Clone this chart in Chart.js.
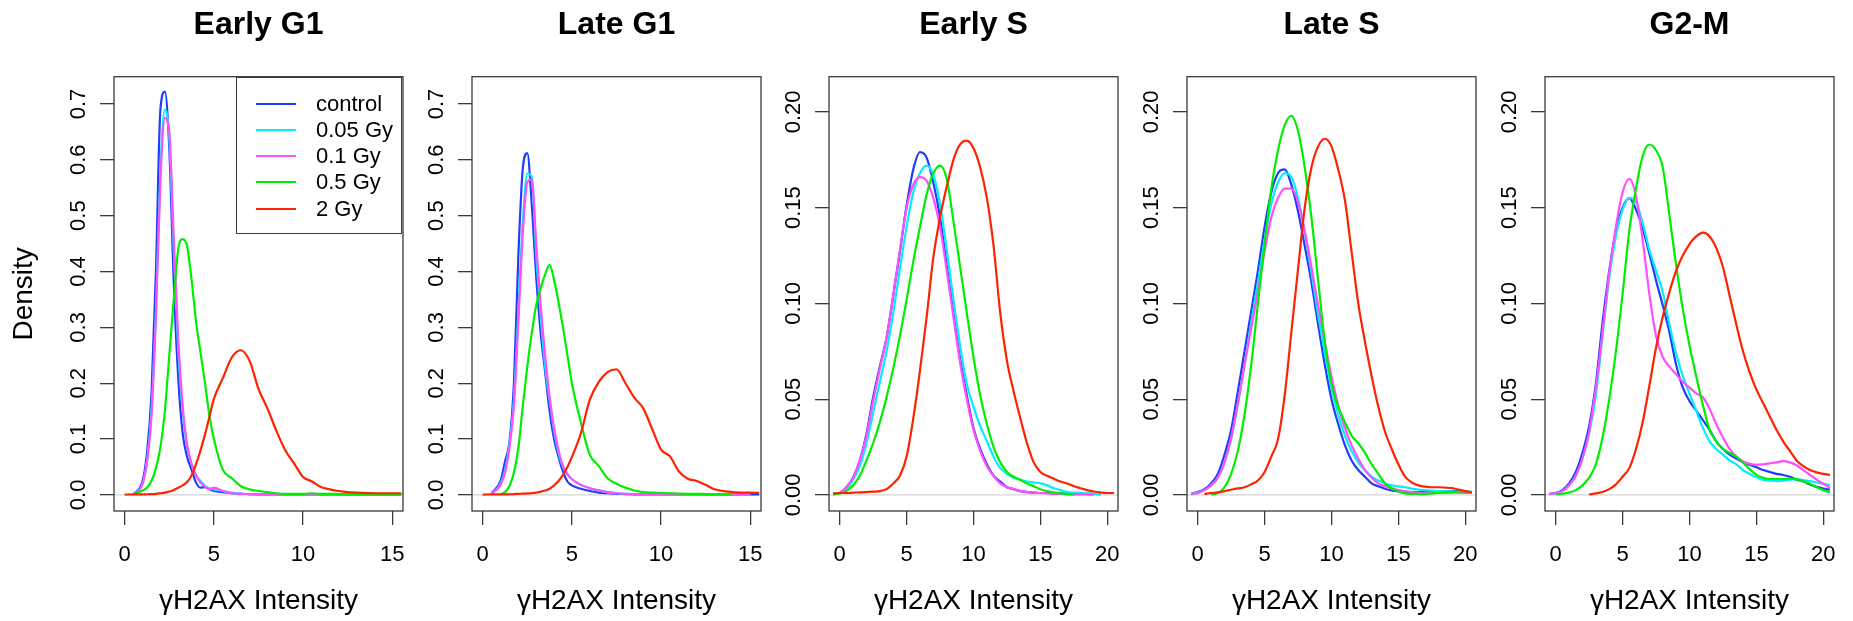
<!DOCTYPE html>
<html lang="en">
<head>
<meta charset="UTF-8">
<title>γH2AX density by cell cycle phase</title>
<script src="https://cdn.jsdelivr.net/npm/chart.js"></script>
<style>
  body { margin: 0; background: #fff; font-family: "Liberation Sans", Arial, sans-serif; }
  #wrap { position: relative; width: 1853px; height: 621px; overflow: hidden; }
  #wrap canvas { position: absolute; top: 0; }
  #legend {
    position: absolute; left: 236px; top: 76.5px; width: 166px; height: 157px;
    border: 1.3px solid #3a3a3a; box-sizing: border-box;
  }
  .row { position: absolute; left: 0; height: 26px; width: 100%; }
  .row i { position: absolute; left: 19px; width: 40px; height: 2px; top: 12px; }
  .row span { position: absolute; left: 79px; top: 0; font-size: 22px; line-height: 26px; color: #000; }
</style>
</head>
<body>
<div id="wrap">
  <canvas id="p0"></canvas>
  <canvas id="p1"></canvas>
  <canvas id="p2"></canvas>
  <canvas id="p3"></canvas>
  <canvas id="p4"></canvas>
  <div id="legend"></div>
</div>
<script>
// ---- data ----
const seriesNames = ['control', '0.05 Gy', '0.1 Gy', '0.5 Gy', '2 Gy'];
const seriesColors = ['#1f3cff', '#00eeff', '#ff4dff', '#00ee00', '#ff2200'];
const panelTitles = ['Early G1', 'Late G1', 'Early S', 'Late S', 'G2-M'];

const xTicksG1 = [0, 5, 10, 15];
const xTicksS = [0, 5, 10, 15, 20];
const yTicksG1 = [0, 0.1, 0.2, 0.3, 0.4, 0.5, 0.6, 0.7];
const yTicksS = [0, 0.05, 0.10, 0.15, 0.20];

// x positions of the density readings
const gridG1 = [0, 0.5, 1, 1.25, 1.5, 1.75, 2, 2.25, 2.5, 2.75,
                3, 3.25, 3.5, 3.75, 4, 4.25, 4.5, 4.75, 5, 5.5,
                6, 6.5, 7, 7.5, 8, 8.5, 9, 9.5, 10, 10.5,
                11, 11.5, 12, 12.5, 13, 14, 15, 15.5];
const gridS = [-0.5, 0, 0.5, 1, 1.5, 2, 2.5, 3, 3.5, 4,
               4.5, 5, 5.5, 6, 6.5, 7, 7.5, 8, 8.5, 9,
               9.5, 10, 10.5, 11, 11.5, 12, 12.5, 13, 13.5, 14,
               14.5, 15, 15.5, 16, 16.5, 17, 17.5, 18, 18.5, 19,
               19.5, 20, 20.5];

// Early G1
const earlyG1Control = [null, .001, .025, .075, .18, .40, .69, .722, .62, .38,
  .21, .11, .068, .045, .022, .013, .014, .01, .007, .005,
  .003, .002, .0015, .001, .001, .001, .0008, .0008, .0008, .0008,
  .0008, .0008, .0008, .0008, .0008, .0008, .0008, .0008];
const earlyG1Gy005 = [null, .001, .02, .06, .15, .33, .58, .69, .64, .44,
  .26, .15, .085, .055, .035, .025, .016, .012, .01, .007,
  .004, .002, .0015, .001, .001, .001, .0008, .0008, .0008, .0008,
  .0008, .0008, .0008, .0008, .0008, .0008, .0008, .0008];
const earlyG1Gy01 = [null, .001, .02, .06, .14, .32, .56, .675, .65, .46,
  .28, .16, .09, .055, .035, .022, .015, .01, .013, .007,
  .003, .002, .0015, .001, .001, .001, .0008, .0008, .0008, .0008,
  .0008, .0008, .0008, .0008, .0008, .0008, .0008, .0008];
const earlyG1Gy05 = [null, .001, .008, .013, .025, .048, .085, .15, .25, .35,
  .44, .458, .445, .385, .31, .255, .2, .142, .1, .045,
  .03, .016, .01, .007, .005, .003, .002, .002, .002, .003,
  .002, .002, .0015, .001, .001, .001, .0008, .0008];
const earlyG1Gy2 = [.0005, .001, .001, .0012, .0015, .002, .003, .004, .006, .009,
  .013, .017, .023, .035, .055, .08, .108, .14, .172, .209,
  .246, .259, .24, .19, .155, .115, .08, .056, .032, .024,
  .014, .01, .007, .005, .004, .003, .003, .003];

// Late G1
const lateG1Control = [null, .003, .025, .06, .095, .2, .43, .585, .612, .52,
  .39, .29, .22, .15, .1, .068, .042, .024, .017, .011,
  .007, .004, .003, .002, .0015, .001, .001, .001, .001, .001,
  .001, .001, .001, .001, .001, .001, .001, .001];
const lateG1Gy005 = [null, .002, .02, .045, .09, .17, .33, .49, .575, .57,
  .43, .32, .23, .17, .115, .075, .05, .037, .028, .018,
  .012, .008, .005, .003, .002, .0015, .001, .001, .001, .001,
  .001, .001, .001, .001, .001, .001, .001, null];
const lateG1Gy01 = [null, .002, .018, .04, .085, .16, .31, .47, .56, .565,
  .45, .34, .25, .175, .12, .08, .052, .037, .028, .018,
  .012, .008, .005, .003, .002, .0015, .001, .001, .001, .001,
  .001, .001, .001, .001, .001, .001, .001, null];
const lateG1Gy05 = [null, null, .001, .005, .016, .04, .085, .16, .23, .29,
  .34, .37, .395, .412, .385, .345, .3, .25, .2, .13,
  .072, .052, .03, .02, .013, .008, .005, .004, .0035, .003,
  .0025, .002, .002, .0015, .0012, .001, null, null];
const lateG1Gy2 = [.0005, .001, .001, .001, .0012, .0015, .002, .0022, .0026, .003,
  .004, .006, .008, .011, .017, .025, .036, .05, .068, .11,
  .17, .202, .22, .225, .2, .174, .155, .118, .081, .069,
  .042, .029, .025, .018, .01, .005, .004, .0035];

// Early S
const earlySControl = [.0005, .001, .004, .009, .018, .032, .051, .067, .082, .104,
  .127, .151, .17, .179, .176, .163, .145, .12, .095, .071,
  .052, .035, .024, .016, .01, .007, .004, .003, .002, .0015,
  .0012, .001, .001, .0008, .0008, .0007, .0006, .0006, .0005, .0005,
  .0004, null, null];
const earlySGy005 = [.0005, .001, .003, .008, .015, .027, .043, .059, .075, .095,
  .118, .14, .158, .168, .172, .167, .152, .128, .102, .078,
  .058, .046, .036, .028, .02, .014, .011, .009, .008, .007,
  .0065, .006, .005, .0035, .0025, .0015, .0012, .001, .0008, .0005,
  .0004, null, null];
const earlySGy01 = [.0005, .001, .004, .009, .018, .031, .049, .066, .082, .104,
  .128, .15, .162, .166, .164, .155, .14, .117, .093, .069,
  .05, .034, .023, .015, .01, .006, .004, .003, .002, .0015,
  .0012, .001, .0008, .0006, .0005, .0004, .0003, .0003, .0002, .0002,
  null, null, null];
const earlySGy05 = [.0003, .0008, .002, .005, .01, .018, .027, .038, .051, .066,
  .083, .102, .122, .14, .157, .168, .172, .165, .143, .119,
  .095, .072, .052, .037, .025, .017, .012, .0095, .0078, .006,
  .0045, .003, .002, .0013, .0008, .0004, .0002, null, null, null,
  null, null, null];
const earlySGy2 = [.0008, .001, .001, .0012, .0013, .0015, .0017, .002, .003, .006,
  .01, .02, .04, .065, .093, .124, .145, .161, .175, .183,
  .185, .181, .171, .155, .13, .095, .07, .054, .04, .027,
  .017, .012, .01, .0085, .007, .006, .0045, .0035, .0025, .0018,
  .0013, .001, .001];

// Late S
const lateSControl = [.0005, .0015, .003, .006, .011, .021, .034, .054, .075, .096,
  .117, .14, .158, .168, .17, .162, .148, .13, .111, .089,
  .068, .05, .037, .026, .018, .013, .0095, .006, .0045, .0032,
  .0023, .0018, .0016, .0015, .0015, .0015, .0015, .0016, .0018, .0019,
  .002, .0018, .0015];
const lateSGy005 = [.0004, .0012, .0025, .005, .009, .017, .029, .047, .068, .09,
  .111, .133, .152, .163, .168, .166, .155, .137, .116, .094,
  .074, .056, .042, .031, .023, .017, .013, .0095, .0075, .006,
  .005, .0045, .004, .0033, .0028, .0025, .0022, .002, .0019, .0018,
  .0017, .0015, .0013];
const lateSGy01 = [.0004, .001, .0025, .005, .009, .017, .03, .048, .068, .087,
  .106, .127, .145, .155, .16, .16, .153, .138, .119, .099,
  .08, .062, .047, .035, .026, .019, .013, .009, .006, .0045,
  .0035, .0025, .002, .0015, .0012, .001, .001, .001, .0011, .0012,
  .0012, .001, .001];
const lateSGy05 = [null, null, null, .0003, .001, .004, .011, .023, .042, .068,
  .1, .131, .16, .18, .193, .198, .19, .171, .145, .112,
  .08, .058, .046, .038, .031, .027, .022, .016, .011, .006,
  .0035, .0018, .0008, .0005, .0005, .0005, .0007, .001, .0013, .0015,
  .0017, .0018, .0015];
const lateSGy2 = [null, null, .0005, .001, .0013, .002, .0027, .0034, .004, .0055,
  .0075, .012, .02, .029, .052, .085, .118, .15, .171, .182,
  .186, .182, .17, .154, .127, .1, .08, .062, .046, .033,
  .024, .016, .0095, .0065, .005, .0043, .004, .004, .0038, .0035,
  .0028, .002, .0013];

// G2-M
const g2mControl = [.0005, .001, .0025, .006, .012, .022, .036, .058, .09, .117,
  .138, .15, .155, .149, .139, .126, .112, .099, .085, .068,
  .056, .049, .044, .039, .034, .028, .024, .021, .019, .017,
  .0158, .0145, .013, .012, .011, .0104, .0095, .008, .007, .0055,
  .0042, .0033, .0027];
const g2mGy005 = [.0004, .001, .002, .005, .01, .019, .032, .052, .083, .113,
  .135, .149, .155, .153, .142, .128, .117, .106, .089, .074,
  .062, .053, .044, .035, .028, .024, .021, .018, .016, .013,
  .011, .0092, .008, .0075, .0072, .0075, .008, .0082, .0078, .0072,
  .0065, .0058, .0052];
const g2mGy01 = [.0004, .001, .002, .005, .01, .019, .033, .056, .085, .116,
  .14, .158, .165, .156, .133, .105, .083, .072, .067, .063,
  .059, .056, .053, .051, .045, .037, .03, .024, .02, .0175,
  .0163, .0157, .016, .0165, .017, .0176, .017, .0155, .013, .0105,
  .008, .0058, .0038];
const g2mGy05 = [null, .0003, .0006, .0012, .0025, .005, .009, .016, .03, .05,
  .075, .105, .138, .16, .177, .183, .18, .171, .146, .12,
  .097, .078, .062, .047, .034, .028, .024, .022, .02, .0168,
  .0135, .0105, .009, .0083, .0083, .0083, .0085, .0082, .0072, .0058,
  .004, .0025, .0013];
const g2mGy2 = [null, null, null, null, null, null, .0003, .0008, .0015, .003,
  .0055, .0095, .014, .024, .038, .057, .077, .093, .106, .117,
  .125, .131, .135, .137, .135, .129, .119, .104, .089, .075,
  .064, .055, .048, .041, .034, .028, .023, .018, .015, .013,
  .0118, .011, .0104];

// ---- layout ----
const FONT = '"Liberation Sans", Arial, sans-serif';
Chart.defaults.font.family = FONT;
Chart.defaults.color = '#000';

const boxLeft = [114, 472, 829, 1187, 1545];
const BOX_W = 289, AXIS_W = 110, PAD_R = 30;

const panels = [
  { x: gridG1, series: [earlyG1Control, earlyG1Gy005, earlyG1Gy01, earlyG1Gy05, earlyG1Gy2],
    xr: [-0.6, 15.6], yr: [-0.0288, 0.7488], xt: xTicksG1, yt: yTicksG1, dec: 1, ypad: 6 },
  { x: gridG1, series: [lateG1Control, lateG1Gy005, lateG1Gy01, lateG1Gy05, lateG1Gy2],
    xr: [-0.6, 15.6], yr: [-0.0288, 0.7488], xt: xTicksG1, yt: yTicksG1, dec: 1, ypad: 6 },
  { x: gridS, series: [earlySControl, earlySGy005, earlySGy01, earlySGy05, earlySGy2],
    xr: [-0.8, 20.8], yr: [-0.0084, 0.2184], xt: xTicksS, yt: yTicksS, dec: 2, ypad: 0 },
  { x: gridS, series: [lateSControl, lateSGy005, lateSGy01, lateSGy05, lateSGy2],
    xr: [-0.8, 20.8], yr: [-0.0084, 0.2184], xt: xTicksS, yt: yTicksS, dec: 2, ypad: 0 },
  { x: gridS, series: [g2mControl, g2mGy005, g2mGy01, g2mGy05, g2mGy2],
    xr: [-0.8, 20.8], yr: [-0.0084, 0.2184], xt: xTicksS, yt: yTicksS, dec: 2, ypad: 0 }
];

// plot frame and the grey zero line, R style
const frame = {
  id: 'frame',
  beforeDatasetsDraw(chart) {
    const { ctx, chartArea: a, scales: { y } } = chart;
    const y0 = y.getPixelForValue(0);
    ctx.save();
    ctx.strokeStyle = '#c8c8c8';
    ctx.lineWidth = 1;
    ctx.beginPath();
    ctx.moveTo(a.left, y0);
    ctx.lineTo(a.right, y0);
    ctx.stroke();
    ctx.restore();
  },
  afterDraw(chart) {
    const { ctx, chartArea: a } = chart;
    ctx.save();
    ctx.strokeStyle = '#3a3a3a';
    ctx.lineWidth = 1.3;
    ctx.strokeRect(a.left, a.top, a.right - a.left, a.bottom - a.top);
    ctx.restore();
  }
};

panels.forEach((p, k) => {
  const cv = document.getElementById('p' + k);
  cv.width = AXIS_W + BOX_W + PAD_R;
  cv.height = 621;
  cv.style.left = (boxLeft[k] - AXIS_W) + 'px';

  const datasets = p.series.map((ys, i) => ({
    label: seriesNames[i],
    data: p.x.map((x, j) => ({ x: x, y: ys[j] })),
    borderColor: seriesColors[i],
    borderWidth: 2.2,
    pointRadius: 0,
    fill: false,
    cubicInterpolationMode: 'monotone',
    order: seriesNames.length - i
  }));

  new Chart(cv, {
    type: 'line',
    data: { datasets },
    options: {
      responsive: false,
      animation: false,
      events: [],
      layout: { padding: { left: 0, right: PAD_R, top: 0, bottom: 0 } },
      plugins: {
        legend: { display: false },
        tooltip: { enabled: false },
        title: {
          display: true, text: panelTitles[k], fullSize: false, color: '#000',
          font: { size: 32, weight: 'bold' },
          padding: { top: 6, bottom: 32.3 }
        }
      },
      scales: {
        x: {
          type: 'linear', min: p.xr[0], max: p.xr[1],
          afterBuildTicks: s => { s.ticks = p.xt.map(v => ({ value: v })); },
          afterFit: s => { s.height = 110; },
          ticks: { font: { size: 22 }, color: '#000', padding: 17, maxRotation: 0, autoSkip: false,
                   callback: v => String(v) },
          grid: { drawOnChartArea: false, tickLength: 14, tickColor: '#3a3a3a', lineWidth: 1.3 },
          border: { display: false },
          title: { display: true, text: 'γH2AX Intensity', color: '#000',
                   font: { size: 28 }, padding: { top: 0, bottom: 2.5 } }
        },
        y: {
          type: 'linear', min: p.yr[0], max: p.yr[1],
          afterBuildTicks: s => { s.ticks = p.yt.map(v => ({ value: v })); },
          afterFit: s => { s.width = AXIS_W; },
          ticks: { font: { size: 22 }, color: '#000', padding: p.ypad, minRotation: 90, maxRotation: 90,
                   crossAlign: 'center', autoSkip: false, callback: v => v.toFixed(p.dec) },
          grid: { drawOnChartArea: false, tickLength: 14, tickColor: '#3a3a3a', lineWidth: 1.3 },
          border: { display: false },
          title: { display: k === 0, text: 'Density', color: '#000',
                   font: { size: 28 }, padding: { top: 3.2, bottom: 0 } }
        }
      }
    },
    plugins: [frame]
  });
});

// legend box in the first panel
const legend = document.getElementById('legend');
seriesNames.forEach((name, i) => {
  const row = document.createElement('div');
  row.className = 'row';
  row.style.top = (13 + i * 26.25) + 'px';
  row.innerHTML = '<i style="background:' + seriesColors[i] + '"></i><span>' + name + '</span>';
  legend.appendChild(row);
});
</script>
</body>
</html>
